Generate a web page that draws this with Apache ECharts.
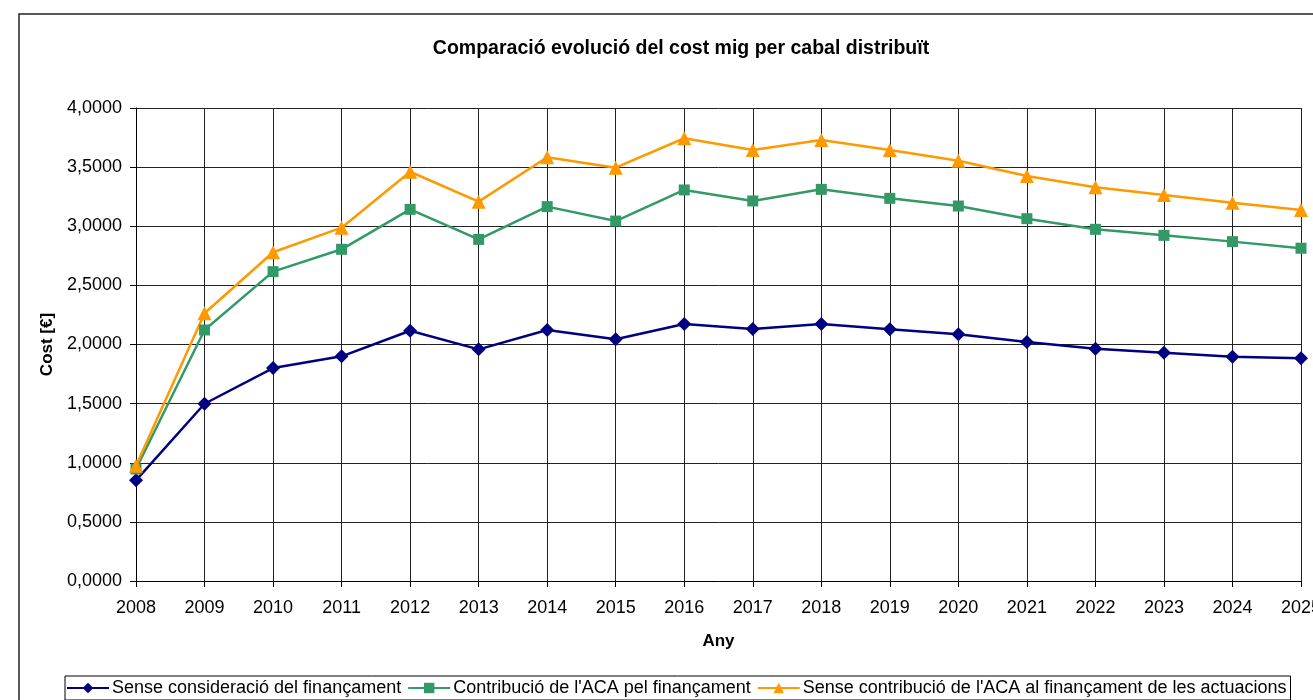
<!DOCTYPE html>
<html>
<head>
<meta charset="utf-8">
<script src="https://cdn.jsdelivr.net/npm/echarts@6/dist/echarts.min.js"></script>
<style>
  html, body { margin: 0; padding: 0; background: #fff; }
  #chart { width: 1313px; height: 700px; }
</style>
</head>
<body>
<div id="chart"></div>
<script>
// anys
const years = ['2008', '2009', '2010', '2011', '2012', '2013', '2014', '2015', '2016',
  '2017', '2018', '2019', '2020', '2021', '2022', '2023', '2024', '2025']
// cost mig (€) per sèrie
const senseConsideracio = [0.851, 1.499, 1.801, 1.900, 2.116, 1.959, 2.123, 2.044, 2.173,
  2.131, 2.173, 2.128, 2.086, 2.021, 1.965, 1.931, 1.897, 1.883]
const contribucioACA = [0.947, 2.123, 2.616, 2.805, 3.143, 2.889, 3.166, 3.044, 3.307,
  3.214, 3.312, 3.236, 3.171, 3.064, 2.974, 2.923, 2.870, 2.814]
const senseContribucioACA = [0.975, 2.264, 2.780, 2.988, 3.461, 3.208, 3.583, 3.495, 3.744,
  3.645, 3.729, 3.645, 3.554, 3.425, 3.329, 3.264, 3.199, 3.137]
const seriesNames = [
  'Sense consideració del finançament',
  "Contribució de l'ACA pel finançament",
  "Sense contribució de l'ACA al finançament de les actuacions"
]

const font = 'Arial, "Liberation Sans", sans-serif'
const chart = echarts.init(document.getElementById('chart'))

function lineSeries(name, data, color, symbol, size) {
  return {
    name: name,
    type: 'line',
    data: data,
    symbol: symbol,
    symbolSize: size,
    lineStyle: { color: color, width: 2.5 },
    itemStyle: { color: color },
    animation: false
  }
}

const option = {
  backgroundColor: '#fff',
  textStyle: { fontFamily: font },
  title: {
    text: 'Comparació evolució del cost mig per cabal distribuït',
    left: 676,
    textAlign: 'center',
    top: 34,
    textStyle: { fontSize: 19.5, fontWeight: 'bold', color: '#000', fontFamily: font }
  },
  graphic: [
    {
      type: 'rect',
      shape: { x: 19, y: 14, width: 1400, height: 800 },
      style: { fill: null, stroke: '#222', lineWidth: 1.5 },
      silent: true,
      z: -1
    }
  ],
  legend: {
    left: 65,
    top: 676,
    padding: [3, 4, 3, 1],
    itemGap: 6,
    itemWidth: 42,
    itemHeight: 13,
    borderColor: '#000',
    borderWidth: 1,
    textStyle: { fontSize: 18, color: '#000', fontFamily: font, padding: [0, 0, 0, -2] },
    data: seriesNames
  },
  grid: {
    left: 136,
    top: 108,
    right: 12,
    bottom: 119,
    outerBoundsMode: 'none'
  },
  xAxis: {
    type: 'category',
    data: years,
    boundaryGap: false,
    name: 'Any',
    nameLocation: 'middle',
    nameGap: 52,
    nameTextStyle: { fontSize: 17, fontWeight: 'bold', color: '#000' },
    axisLine: { lineStyle: { color: '#000', width: 1 } },
    axisTick: { show: true, length: 6, lineStyle: { color: '#000' } },
    axisLabel: { fontSize: 18, color: '#000', margin: 18 },
    splitLine: { show: true, lineStyle: { color: '#222', width: 1 } }
  },
  yAxis: {
    type: 'value',
    min: 0,
    max: 4,
    interval: 0.5,
    name: 'Cost [€]',
    nameLocation: 'middle',
    nameGap: 80,
    nameTextStyle: { fontSize: 17, fontWeight: 'bold', color: '#000' },
    axisLine: { show: true, lineStyle: { color: '#000', width: 1 } },
    axisTick: { show: true, length: 6, lineStyle: { color: '#000' } },
    axisLabel: {
      fontSize: 18,
      color: '#000',
      margin: 14,
      formatter: function (v) { return v.toFixed(4).replace('.', ',') }
    },
    splitLine: { show: true, lineStyle: { color: '#222', width: 1 } }
  },
  series: [
    lineSeries(seriesNames[0], senseConsideracio, '#000080', 'diamond', 14),
    lineSeries(seriesNames[1], contribucioACA, '#339966', 'rect', 11),
    lineSeries(seriesNames[2], senseContribucioACA, '#FF9900', 'triangle', 14)
  ]
}

chart.setOption(option)
</script>
</body>
</html>
